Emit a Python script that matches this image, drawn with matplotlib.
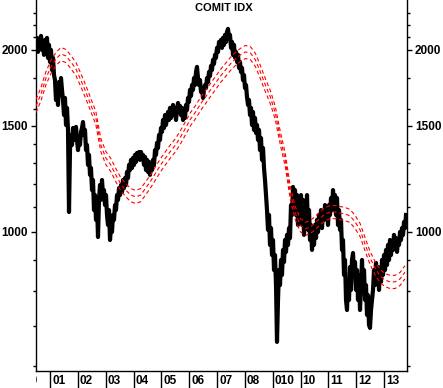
import matplotlib
matplotlib.use('Agg')
import matplotlib.pyplot as plt
import matplotlib.dates as mdates
from matplotlib.ticker import FixedLocator, NullFormatter
from matplotlib.transforms import Bbox, TransformedBbox
import pandas as pd

# COMIT index (mid-2000 .. Oct 2013)
idx_vals = [
    2039, 2094, 1985, 2078, 2016, 2110, 2000, 2062, 1963, 2078, 2023, 2094, 1941, 2039, 1911, 2000, 1853, 1941, 1818,
    1783, 1653, 1750, 1622, 1770, 1685, 1797, 1718, 1653, 1561, 1666, 1503, 1604, 1475, 1079,
    1366, 1447, 1393, 1486, 1420, 1475, 1492, 1420, 1366, 1430,
    1393, 1464, 1486, 1520, 1447, 1475, 1366, 1393, 1291, 1341,
    1243, 1276, 1173, 1219, 1087, 1151, 1047, 1108, 981, 1130,
    1196, 1130, 1219, 1151, 1173, 1108, 1151, 1067, 1027, 1087,
    970, 1015, 1000, 1067, 1047, 1108, 1087, 1151, 1130, 1182,
    1151, 1196, 1164, 1219, 1182, 1228, 1196, 1257, 1228, 1291,
    1266, 1316, 1276, 1326, 1291, 1341, 1306, 1351, 1326, 1356,
    1316, 1356, 1326, 1341, 1291, 1331, 1266, 1316, 1257, 1306,
    1243, 1291, 1266, 1316, 1291, 1366, 1341, 1404, 1377, 1447,
    1420, 1486, 1464, 1532, 1486, 1561, 1503, 1544, 1579, 1532,
    1604, 1544, 1579, 1622, 1561, 1604, 1532, 1591, 1634, 1579,
    1616, 1561, 1604, 1532, 1573, 1544, 1622, 1591, 1666, 1641,
    1718, 1679, 1750, 1718, 1797, 1750, 1839, 1875, 1797, 1750,
    1783, 1704, 1730, 1666, 1718, 1750, 1730, 1797, 1770, 1839,
    1811, 1882, 1853, 1926, 1897, 1963, 1941, 2016, 1985, 2062,
    2039, 2078, 2016, 2094, 2039, 2118, 2062, 2142, 2167, 2094,
    2118, 2016, 2062, 1963, 2039, 1941, 1985, 1911, 1963, 1868,
    1911, 1839, 1868, 1783, 1818, 1730, 1750, 1672, 1622, 1653,
    1561, 1604, 1503, 1579, 1475, 1544, 1458, 1503, 1420, 1475,
    1366, 1430, 1316, 1377, 1276, 1219, 1151, 1087, 1008, 1067,
    952, 1015, 916, 970, 865, 916, 817, 658, 772, 865,
    817, 899, 849, 934, 892, 970, 927, 989, 952, 1015,
    977, 1108, 1067, 1187, 1130, 1173, 1067, 1151, 1027, 1130,
    1067, 1151, 1027, 1130, 989, 1108, 1047, 1151, 1008, 1087,
    970, 1027, 934, 1008, 952, 1027, 977, 1047, 1000, 1067,
    1027, 1087, 1015, 1079, 1047, 1108, 1055, 1087, 1027, 1108,
    1067, 1138, 1087, 1173, 1108, 1151, 1067, 1138, 1027, 1087,
    1008, 1047, 934, 970, 849, 899, 772, 743, 833, 772,
    875, 802, 899, 923, 849, 892, 802, 865, 772, 849,
    743, 817, 899, 802, 865, 772, 817, 729, 786, 702,
    694, 743, 772, 802, 865, 817, 889, 833, 875, 802,
    865, 827, 899, 849, 916, 865, 934, 882, 952, 899,
    970, 916, 963, 934, 989, 941, 977, 927, 970, 952,
    1000, 970, 1015, 989, 1039, 1015, 1067,
]

# smooth cycle line (centre of the red band)
band_mid = [
    1616, 1691, 1797, 1875, 1933, 1970, 1955, 1911, 1861, 1783, 1704, 1622, 1544, 1393, 1326,
    1291, 1243, 1200, 1173, 1151, 1143, 1151, 1182, 1214, 1252, 1291, 1326, 1361, 1393, 1436,
    1486, 1538, 1579, 1628, 1672, 1718, 1763, 1811, 1853, 1897, 1933, 1963, 1985, 1977, 1926,
    1839, 1750, 1672, 1573, 1430, 1316, 1160, 1075, 1027, 1012, 1019, 1035, 1055, 1071, 1079,
    1079, 1075, 1071, 1063, 1039, 1008, 955, 906, 872, 846, 833, 827, 827, 836, 858,
]
band_pct = 0.025

year_labels = ['00', '01', '02', '03', '04', '05', '06', '07', '08', '010', '10', '11', '12', '13']
first_year = 2000

idx_dates = pd.date_range('2000-06-30', '2013-10-16', periods=len(idx_vals))
band_dates = pd.date_range('2000-06-30', '2013-10-02', periods=len(band_mid))
band_hi = [v * (1 + band_pct) for v in band_mid]
band_lo = [v * (1 - band_pct) for v in band_mid]

fnt = dict(family='Liberation Sans', fontsize=8.5, fontweight='bold')

fig = plt.figure(figsize=(4.43, 3.88), dpi=100)
ax = fig.add_axes([36 / 443, 17 / 388, 371 / 443, 371 / 388])

ax.plot(idx_dates, idx_vals, color='black', lw=3.0, zorder=2)
for b in (band_hi, band_mid, band_lo):
    ax.plot(band_dates, b, color='red', lw=0.8, linestyle=(0, (3.5, 2.5)), zorder=3)

ax.set_yscale('log')
ax.set_ylim(589, 2419)
ax.set_xlim(pd.Timestamp('2000-06-30'), pd.Timestamp('2013-10-29'))

ax.set_yticks([1000, 1500, 2000])
ax.set_yticklabels(['1000', '1500', '2000'])
ax.yaxis.set_minor_locator(FixedLocator([600, 700, 800, 900, 1100, 1200, 1300, 1400, 1600, 1800, 2100, 2200, 2300]))
ax.yaxis.set_minor_formatter(NullFormatter())
ax.tick_params(axis='y', which='both', left=True, right=True, labelleft=True, labelright=True,
               direction='out', width=1)
ax.tick_params(axis='y', which='major', length=3.6, pad=2)
ax.tick_params(axis='y', which='minor', length=2.2)
for lab in ax.get_yticklabels():
    lab.set(**fnt)

# year separators below the axis
seps = [mdates.date2num(pd.Timestamp(f'{first_year + i}-01-01')) for i in range(1, len(year_labels))]
ax.set_xticks(seps)
ax.set_xticklabels([''] * len(seps))
ax.tick_params(axis='x', which='major', direction='out', length=12.5, width=1)

clip = TransformedBbox(Bbox([[0, -1], [1.2, 1]]), ax.transAxes)
for i, lbl in enumerate(year_labels):
    x0 = mdates.date2num(pd.Timestamp(f'{first_year + i}-01-01'))
    t = ax.annotate(lbl, xy=(x0, 0), xycoords=('data', 'axes fraction'), xytext=(1.5, -7.3),
                    textcoords='offset points', ha='left', va='center', annotation_clip=False, **fnt)
    t.set_clip_box(clip)
    t.set_clip_on(True)

ax.spines['top'].set_visible(False)
for s in ('left', 'right', 'bottom'):
    ax.spines[s].set_linewidth(1)

fig.text(224 / 443, 1 - 8 / 388, 'COMIT IDX', ha='center', va='center',
         family='Liberation Sans', fontsize=8, fontweight='bold')

fig.savefig('out.png', dpi=100)
